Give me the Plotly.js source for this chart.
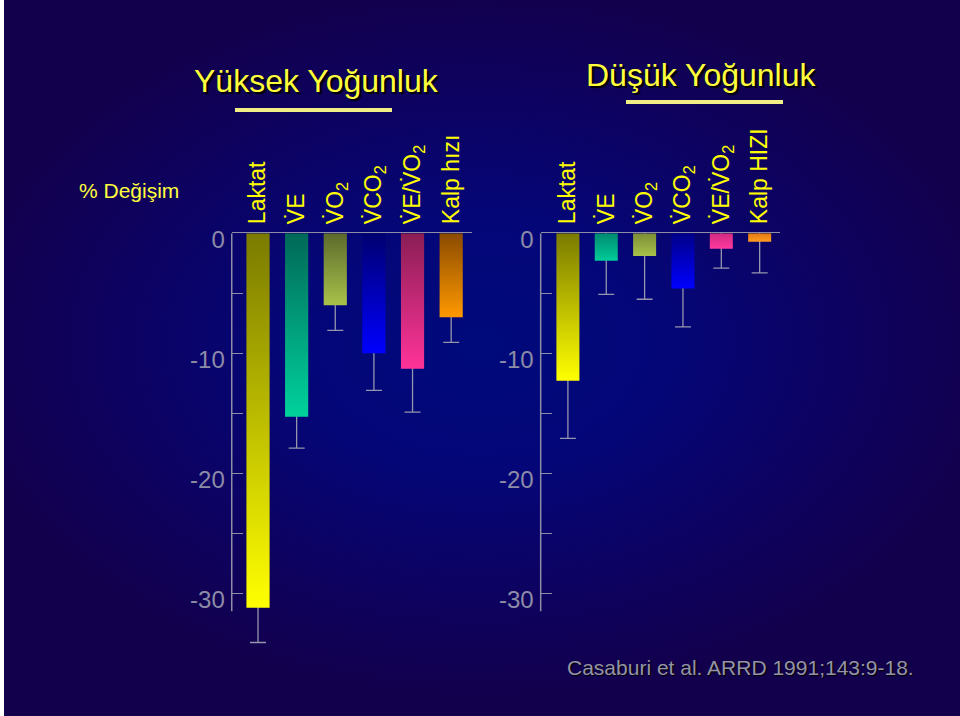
<!DOCTYPE html>
<html>
<head>
<meta charset="utf-8">
<script src="https://cdn.plot.ly/plotly-3.0.1.min.js"></script>
<style>
  html, body { margin: 0; padding: 0; background: #ffffff; }
  #wrap { position: absolute; left: 0; top: 0; width: 960px; height: 716px;
    background: radial-gradient(ellipse 55% 50% at 50% 48%, #000a7a 0%, #040678 35%, #0d0260 70%, #13004c 100%); }
  #edge { position: absolute; left: 0; top: 0; width: 4px; height: 716px; background: #ffffff; }
  #chart { position: absolute; left: 0; top: 0; width: 960px; height: 716px; }
</style>
</head>
<body>
<div id="wrap"></div>
<div id="chart"></div>
<div id="edge"></div>
<svg width="0" height="0" style="position:absolute">
  <defs id="gradDefs"></defs>
</svg>
<script>
// ---- data ----
var highCategories = ['Laktat', 'V\u0307E', 'V\u0307O<sub>2</sub>', 'V\u0307CO<sub>2</sub>', 'V\u0307E/V\u0307O<sub>2</sub>', 'Kalp h\u0131z\u0131'];
var highValues = [-31.2, -15.3, -6.0, -10.0, -11.3, -7.0];
var highSD = [2.9, 2.6, 2.1, 3.1, 3.6, 2.1];

var lowCategories = ['Laktat', 'V\u0307E', 'V\u0307O<sub>2</sub>', 'V\u0307CO<sub>2</sub>', 'V\u0307E/V\u0307O<sub>2</sub>', 'Kalp HIZI'];
var lowValues = [-12.3, -2.3, -1.9, -4.6, -1.3, -0.7];
var lowSD = [4.8, 2.8, 3.6, 3.2, 1.6, 2.6];

var yTickVals = [0, -10, -20, -30];
var yTickText = ['0', '-10', '-20', '-30'];
var yMinorVals = [-5, -15, -25];

// ---- styles ----
var highTop = ['#7a7a00', '#006858', '#5c6a2c', '#000070', '#8a1e55', '#8a4a00'];
var highBottom = ['#ffff00', '#00d29c', '#a8c24a', '#0000ff', '#ff3399', '#ff9900'];
var lowTop = ['#7a7a00', '#008a70', '#7c8c36', '#000088', '#d02a80', '#e07a10'];
var lowBottom = ['#ffff00', '#00cc99', '#a8c24a', '#0000ff', '#ff3aa0', '#ff9a20'];

var gray = '#8e8ea6';
var errGray = '#9595ad';

function errTrace(cats, vals, sd, xa, ya) {
  return {
    type: 'bar', x: cats, y: vals, xaxis: xa, yaxis: ya, width: 0.6,
    marker: { color: 'rgba(0,0,0,0)', line: { width: 0 } },
    error_y: { type: 'data', array: sd, arrayminus: sd, symmetric: false,
      color: errGray, thickness: 1.3, width: 8 },
    hoverinfo: 'skip', showlegend: false
  };
}
function barTrace(cats, vals, colors, xa, ya) {
  return {
    type: 'bar', x: cats, y: vals, xaxis: xa, yaxis: ya, width: 0.6,
    marker: { color: colors, line: { width: 0 } },
    showlegend: false
  };
}

var data = [
  errTrace(highCategories, highValues, highSD, 'x', 'y'),
  barTrace(highCategories, highValues, highBottom, 'x', 'y'),
  errTrace(lowCategories, lowValues, lowSD, 'x2', 'y2'),
  barTrace(lowCategories, lowValues, lowBottom, 'x2', 'y2')
];

var yDomain = [0.0876, 0.6742];
function xAxis(domain, range, anchor) {
  return {
    domain: domain, range: range, anchor: anchor, side: 'top',
    showline: true, linecolor: gray, linewidth: 1.5,
    ticks: '', tickangle: -90, ticklabelstandoff: 3,
    tickfont: { family: 'Liberation Sans, Arial, sans-serif', size: 23, color: '#ffff00' },
    showgrid: false, zeroline: false, fixedrange: true
  };
}
function yAxis(domain, anchor) {
  return {
    domain: domain, range: [-35, 0], anchor: anchor,
    showline: false, showgrid: false, zeroline: false,
    tickmode: 'array', tickvals: yTickVals, ticktext: yTickText,
    ticks: 'inside', ticklen: 11, tickwidth: 1.3, tickcolor: gray,
    ticklabelshift: 6, ticklabelstandoff: 6,
    minor: { tickmode: 'array', tickvals: yMinorVals, ticks: 'inside', ticklen: 11, tickwidth: 1.3, tickcolor: gray },
    tickfont: { family: 'Liberation Sans, Arial, sans-serif', size: 24, color: '#8c8ca6' },
    fixedrange: true
  };
}

var titleFont = { family: 'Liberation Sans, Arial, sans-serif', size: 32, color: '#ffff3c',
  shadow: '2px 2px 1px #000000' };

var layout = {
  width: 960, height: 716,
  margin: { l: 0, r: 0, t: 0, b: 0 },
  paper_bgcolor: 'rgba(0,0,0,0)', plot_bgcolor: 'rgba(0,0,0,0)',
  barmode: 'overlay', bargap: 0.4,
  showlegend: false,
  xaxis: xAxis([0.2414, 0.4917], [-0.68, 5.54], 'y'),
  yaxis: yAxis(yDomain, 'x'),
  xaxis2: xAxis([0.5632, 0.8125], [-0.71, 5.53], 'y2'),
  yaxis2: yAxis(yDomain, 'x2'),
  shapes: [
    { type: 'line', xref: 'x domain', yref: 'y', x0: 0, x1: 0, y0: 0, y1: -31.5, line: { color: gray, width: 1.5 } },
    { type: 'line', xref: 'x2 domain', yref: 'y2', x0: 0, x1: 0, y0: 0, y1: -31.5, line: { color: gray, width: 1.5 } },
    { type: 'rect', xref: 'paper', yref: 'paper', x0: 235 / 960, x1: 392 / 960, y0: 1 - 112 / 716, y1: 1 - 108 / 716,
      fillcolor: '#f2ee86', line: { width: 0 } },
    { type: 'rect', xref: 'paper', yref: 'paper', x0: 626 / 960, x1: 783 / 960, y0: 1 - 104 / 716, y1: 1 - 100 / 716,
      fillcolor: '#f2ee86', line: { width: 0 } }
  ],
  annotations: [
    { text: 'Y\u00fcksek Yo\u011funluk', xref: 'paper', yref: 'paper', x: 316 / 960, y: 1 - 81 / 716,
      showarrow: false, xanchor: 'center', yanchor: 'middle', font: titleFont },
    { text: 'D\u00fc\u015f\u00fck Yo\u011funluk', xref: 'paper', yref: 'paper', x: 701 / 960, y: 1 - 75 / 716,
      showarrow: false, xanchor: 'center', yanchor: 'middle', font: titleFont },
    { text: '% De\u011fi\u015fim', xref: 'paper', yref: 'paper', x: 129 / 960, y: 1 - 190 / 716,
      showarrow: false, xanchor: 'center', yanchor: 'middle',
      font: { family: 'Liberation Sans, Arial, sans-serif', size: 21, color: '#ffff3c' } },
    { text: 'Casaburi et al. ARRD 1991;143:9-18.', xref: 'paper', yref: 'paper', x: 740 / 960, y: 1 - 667 / 716,
      showarrow: false, xanchor: 'center', yanchor: 'middle',
      font: { family: 'Liberation Sans, Arial, sans-serif', size: 21, color: '#9494a6', shadow: '1px 1px 1px #000000' } }
  ]
};

function makeGradients() {
  var defs = document.getElementById('gradDefs');
  var ns = 'http://www.w3.org/2000/svg';
  function add(id, top, bottom) {
    var g = document.createElementNS(ns, 'linearGradient');
    g.setAttribute('id', id);
    g.setAttribute('x1', '0'); g.setAttribute('y1', '0');
    g.setAttribute('x2', '0'); g.setAttribute('y2', '1');
    var s1 = document.createElementNS(ns, 'stop');
    s1.setAttribute('offset', '0'); s1.setAttribute('stop-color', top);
    var s2 = document.createElementNS(ns, 'stop');
    s2.setAttribute('offset', '1'); s2.setAttribute('stop-color', bottom);
    g.appendChild(s1); g.appendChild(s2);
    defs.appendChild(g);
  }
  highTop.forEach(function (c, i) { add('gh' + i, c, highBottom[i]); });
  lowTop.forEach(function (c, i) { add('gl' + i, c, lowBottom[i]); });
}

function applyGradients() {
  var gd = document.getElementById('chart');
  var sets = [['xy', 'gh'], ['x2y2', 'gl']];
  sets.forEach(function (s) {
    var traces = gd.querySelectorAll('.subplot.' + s[0] + ' .barlayer .trace');
    if (traces.length < 2) return;
    var paths = traces[1].querySelectorAll('.point path');
    paths.forEach(function (p, i) { p.style.fill = 'url(#' + s[1] + i + ')'; });
  });
}

makeGradients();
Plotly.newPlot('chart', data, layout, { staticPlot: true }).then(applyGradients);
</script>
</body>
</html>
